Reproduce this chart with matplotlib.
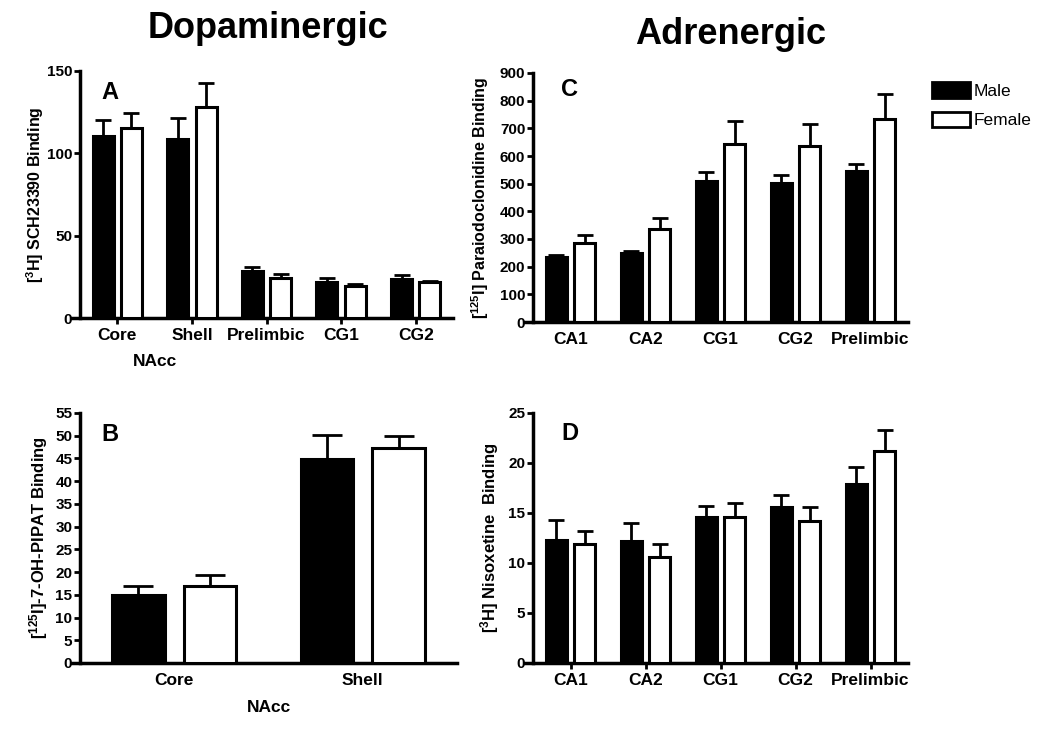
import numpy as np
import matplotlib.pyplot as plt
import matplotlib.transforms as mtransforms
from matplotlib.patches import Patch

plt.rcParams['font.family'] = ['Liberation Sans', 'DejaVu Sans']
plt.rcParams['font.weight'] = 'bold'
plt.rcParams['mathtext.fontset'] = 'custom'
plt.rcParams['mathtext.rm'] = 'Liberation Sans:bold'
plt.rcParams['mathtext.default'] = 'rm'

# panel A: [3H] SCH23390
a_regions = ['Core', 'Shell', 'Prelimbic', 'CG1', 'CG2']
a_male = [110.4, 109.0, 28.7, 21.8, 23.8]
a_male_err = [10.1, 12.7, 2.2, 2.4, 2.6]
a_female = [115.5, 128.2, 24.2, 19.6, 21.8]
a_female_err = [9.1, 14.5, 2.7, 0.8, 0.8]

# panel B: [125I]-7-OH-PIPAT
b_regions = ['Core', 'Shell']
b_male = [15.0, 44.9]
b_male_err = [2.0, 5.2]
b_female = [16.9, 47.3]
b_female_err = [2.5, 2.6]

# panel C: [125I] Paraiodoclonidine
c_regions = ['CA1', 'CA2', 'CG1', 'CG2', 'Prelimbic']
c_male = [235, 249, 508, 502, 545]
c_male_err = [8, 8, 33, 28, 27]
c_female = [286, 337, 645, 636, 733]
c_female_err = [27, 40, 80, 78, 92]

# panel D: [3H] Nisoxetine
d_regions = ['CA1', 'CA2', 'CG1', 'CG2', 'Prelimbic']
d_male = [12.3, 12.2, 14.6, 15.6, 17.9]
d_male_err = [2.0, 1.8, 1.1, 1.2, 1.7]
d_female = [11.9, 10.6, 14.6, 14.2, 21.2]
d_female_err = [1.3, 1.3, 1.4, 1.4, 2.1]

W, H = 1050, 730
fig = plt.figure(figsize=(10.5, 7.3), dpi=100)


def px_axes(left, top, right, bottom):
    return fig.add_axes([left / W, (H - bottom) / H, (right - left) / W, (bottom - top) / H])


def bars(ax, regions, male, male_err, female, female_err, ymax, step, ylabel, ylab_size,
         ylab_x, letter, letter_xy, cap, xticks_on):
    x = np.arange(len(regions))
    bw = 0.28
    off = 0.19
    zeros = np.zeros(len(regions))
    ekw = dict(elinewidth=2, capthick=2, ecolor='black')
    ax.bar(x - off, male, bw, color='black', edgecolor='black', linewidth=2.2,
           yerr=[zeros, male_err], capsize=cap, error_kw=ekw, zorder=3)
    ax.bar(x + off, female, bw, color='white', edgecolor='black', linewidth=2.2,
           yerr=[zeros, female_err], capsize=cap, error_kw=ekw, zorder=3)
    ax.set_xlim(-0.5, len(regions) - 0.5)
    ax.set_ylim(0, ymax)
    ax.set_yticks(np.arange(0, ymax + step / 2, step))
    ax.set_xticks(x)
    ax.set_xticklabels(regions, fontsize=12.5, fontweight='bold')
    for lab in ax.get_yticklabels():
        lab.set_fontsize(11)
        lab.set_fontweight('bold')
    for s in ['top', 'right']:
        ax.spines[s].set_visible(False)
    for s in ['left', 'bottom']:
        ax.spines[s].set_linewidth(2.5)
    # x axis runs a little past the y axis on the left
    px_per_unit = ax.get_position().width * W / len(regions)
    ax.spines['bottom'].set_bounds(-0.5 - 8 / px_per_unit, len(regions) - 0.5)
    ax.tick_params(axis='y', width=2, length=4, pad=1.5)
    if xticks_on:
        ax.tick_params(axis='x', width=2, length=4, pad=3)
    else:
        ax.tick_params(axis='x', length=0, pad=7.5)
    ax.set_ylabel(ylabel, fontsize=ylab_size, fontweight='bold')
    ax.yaxis.set_label_coords(ylab_x, 0.5)
    ax.yaxis.label.set_va('center')
    ax.text(letter_xy[0], letter_xy[1], letter, transform=ax.transAxes, fontsize=17,
            fontweight='bold', va='top', ha='left')


ax_a = px_axes(80, 71, 453, 318)
bars(ax_a, a_regions, a_male, a_male_err, a_female, a_female_err, 150, 50,
     r'[$^{3}$H] SCH23390 Binding', 11.5, -0.121, 'A', (0.058, 0.96), 6, True)
trans = mtransforms.blended_transform_factory(ax_a.transData, ax_a.transAxes)
ax_a.text(0.5, -0.178, 'NAcc', transform=trans, ha='center', va='center', fontsize=12.5,
          fontweight='bold')

ax_b = px_axes(80, 413, 457, 663)
bars(ax_b, b_regions, b_male, b_male_err, b_female, b_female_err, 55, 5,
     r'[$^{125}$I]-7-OH-PIPAT Binding', 12, -0.111, 'B', (0.058, 0.96), 11, False)
trans = mtransforms.blended_transform_factory(ax_b.transData, ax_b.transAxes)
ax_b.text(0.5, -0.18, 'NAcc', transform=trans, ha='center', va='center', fontsize=12.5,
          fontweight='bold')

ax_c = px_axes(533, 73, 908, 322)
bars(ax_c, c_regions, c_male, c_male_err, c_female, c_female_err, 900, 100,
     r'[$^{125}$I] Paraiodoclonidine Binding', 11.5, -0.141, 'C', (0.076, 0.98), 6, False)
ax_c.legend(handles=[Patch(facecolor='black', edgecolor='black', linewidth=2),
                     Patch(facecolor='white', edgecolor='black', linewidth=2)],
            labels=['Male', 'Female'], loc='upper left', bbox_to_anchor=(1.064, 0.962),
            frameon=False, borderpad=0, borderaxespad=0, handlelength=2.19,
            handleheight=0.98, handletextpad=0.23, labelspacing=0.72,
            prop=dict(size=12.5, weight='normal'))

ax_d = px_axes(533, 413, 908, 663)
bars(ax_d, d_regions, d_male, d_male_err, d_female, d_female_err, 25, 5,
     r'[$^{3}$H] Nisoxetine  Binding', 12, -0.117, 'D', (0.076, 0.965), 6, True)

fig.text(268 / W, 1 - 38 / H, 'Dopaminergic', ha='center', va='baseline', fontsize=26,
         fontweight='bold')
fig.text(731 / W, 1 - 44 / H, 'Adrenergic', ha='center', va='baseline', fontsize=26,
         fontweight='bold')

fig.savefig('out.png', dpi=100)
